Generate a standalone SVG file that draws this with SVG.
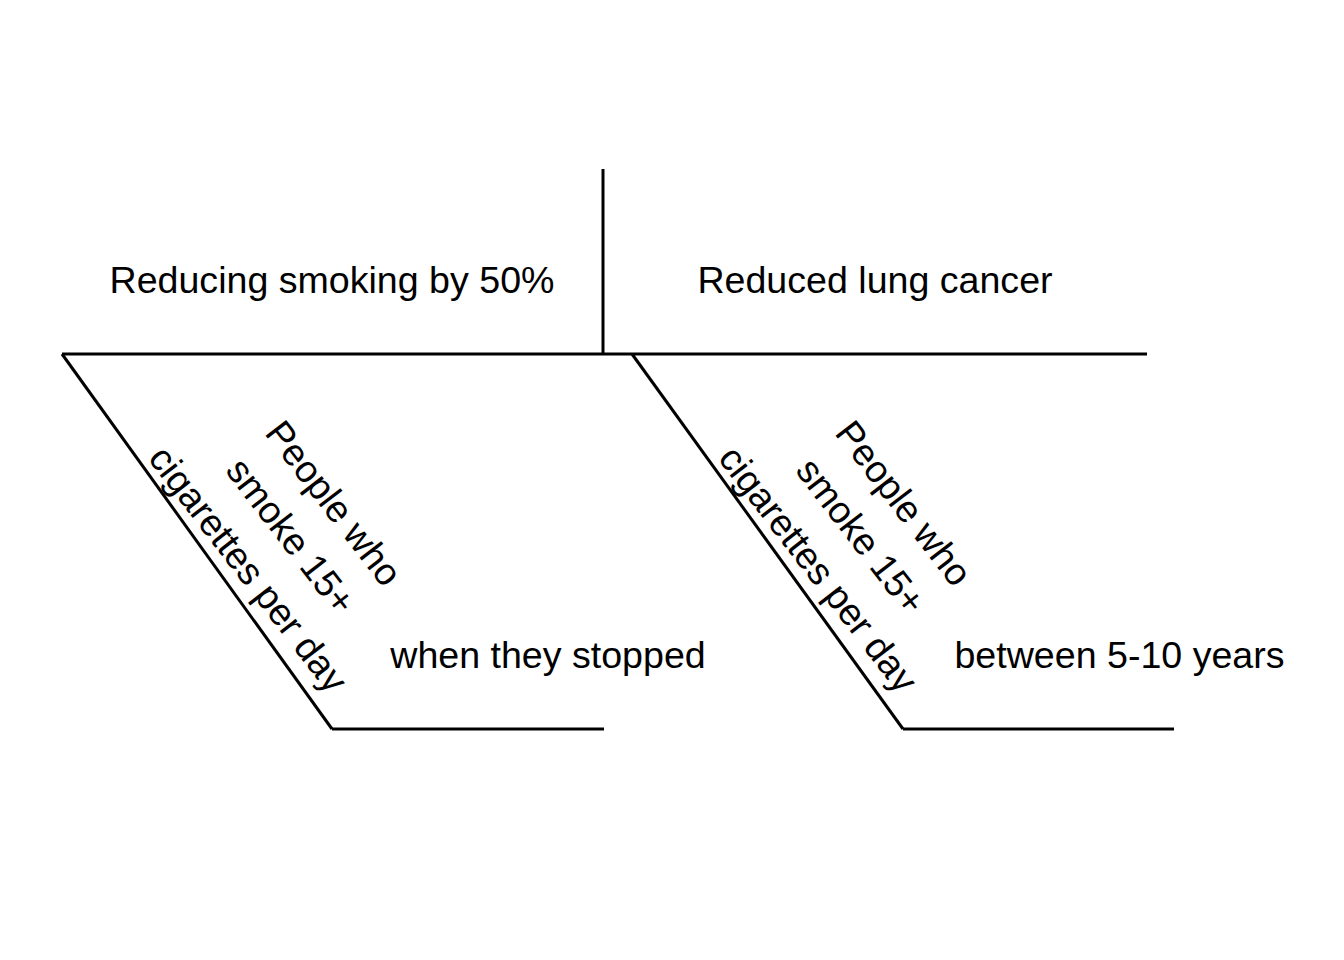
<svg xmlns="http://www.w3.org/2000/svg" width="1344" height="960" viewBox="0 0 1344 960">
<style>
.ln{stroke:#000;stroke-width:3;fill:none;stroke-linecap:butt}
.t{font-family:"Liberation Sans",Arial,sans-serif;font-size:37.6px;fill:#000;text-anchor:middle}
</style>
<rect width="1344" height="960" fill="#fff"/>
<g id="connectors">
<line class="ln" x1="62" y1="354" x2="1147" y2="354"/>
<line class="ln" x1="603" y1="169" x2="603" y2="354"/>
<line class="ln" x1="62" y1="354" x2="332" y2="729"/>
<line class="ln" x1="332" y1="729" x2="604" y2="729"/>
<line class="ln" x1="632" y1="354" x2="903" y2="729"/>
<line class="ln" x1="903" y1="729" x2="1174" y2="729"/>
</g>
<g id="cause"><text class="t" x="332" y="293">Reducing smoking by 50%</text></g>
<g id="effect"><text class="t" x="875" y="293">Reduced lung cancer</text></g>
<g id="branch1" transform="translate(280.8,544) rotate(52.4)">
<text class="t" x="0" y="-54">People who</text>
<text class="t" x="0" y="0">smoke 15+</text>
<text class="t" x="0" y="54">cigarettes per day</text>
</g>
<g id="branch1-label"><text class="t" x="548" y="668">when they stopped</text></g>
<g id="branch2" transform="translate(850.8,544) rotate(52.4)">
<text class="t" x="0" y="-54">People who</text>
<text class="t" x="0" y="0">smoke 15+</text>
<text class="t" x="0" y="54">cigarettes per day</text>
</g>
<g id="branch2-label"><text class="t" x="1119.5" y="668">between 5-10 years</text></g>
</svg>
